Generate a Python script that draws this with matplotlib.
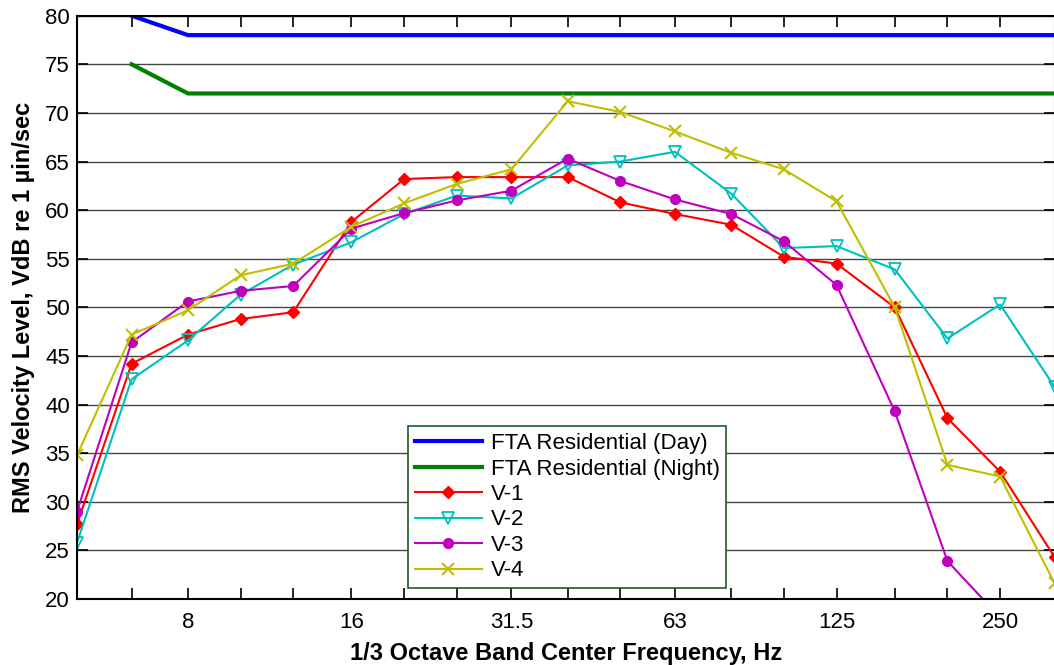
import numpy as np
import matplotlib
matplotlib.use("Agg")
import matplotlib.pyplot as plt
from matplotlib.ticker import FixedLocator, FixedFormatter, NullFormatter

plt.rcParams["font.family"] = ["Liberation Sans", "DejaVu Sans"]

# 1/3 octave band centre frequencies, Hz
bands = [5, 6.3, 8, 10, 12.5, 16, 20, 25, 31.5, 40, 50, 63, 80, 100, 125, 160, 200, 250, 315]
label_bands = [8, 16, 31.5, 63, 125, 250]
label_text = ["8", "16", "31.5", "63", "125", "250"]

# FTA criteria
fta_day = [np.nan, 80, 78, 78, 78, 78, 78, 78, 78, 78, 78, 78, 78, 78, 78, 78, 78, 78, 78]
fta_night = [np.nan, 75, 72, 72, 72, 72, 72, 72, 72, 72, 72, 72, 72, 72, 72, 72, 72, 72, 72]

# measured levels, VdB
v1 = [27.7, 44.2, 47.2, 48.8, 49.5, 58.8, 63.2, 63.4, 63.4, 63.4, 60.8, 59.6, 58.5, 55.2, 54.5, 50.0, 38.6, 33.1, 24.3]
v2 = [25.8, 42.6, 46.6, 51.3, 54.4, 56.7, 59.6, 61.5, 61.2, 64.6, 65.0, 66.0, 61.7, 56.1, 56.3, 53.9, 46.8, 50.3, 41.8]
v3 = [29.0, 46.4, 50.6, 51.7, 52.2, 58.1, 59.7, 61.0, 62.0, 65.3, 63.0, 61.1, 59.6, 56.8, 52.3, 39.3, 23.9, 18.1, 12.0]
v4 = [34.8, 47.2, 49.7, 53.3, 54.5, 58.3, 60.7, 62.7, 64.2, 71.2, 70.1, 68.1, 65.9, 64.2, 60.9, 50.0, 33.8, 32.6, 21.6]

fig = plt.figure(figsize=(10.54, 6.65), dpi=100)
ax = fig.add_axes([0.0731, 0.0992, 0.9275, 0.8772])

ax.plot(bands, fta_day, color="#0000ff", lw=3.0, label="FTA Residential (Day)")
ax.plot(bands, fta_night, color="#008000", lw=3.0, label="FTA Residential (Night)")
ax.plot(bands, v1, color="#ff0000", lw=1.5, marker="D", ms=6, label="V-1")
ax.plot(bands, v2, color="#00bfbf", lw=1.5, marker="v", ms=8, mfc="none", mew=1.3, label="V-2")
ax.plot(bands, v3, color="#bf00bf", lw=1.5, marker="o", ms=7, label="V-3")
ax.plot(bands, v4, color="#bfbf00", lw=1.5, marker="x", ms=8, mew=1.5, label="V-4")

ax.set_xscale("log")
ax.set_xlim(5, 315)
ax.set_ylim(20, 80)
ax.xaxis.set_major_locator(FixedLocator(label_bands))
ax.xaxis.set_major_formatter(FixedFormatter(label_text))
ax.xaxis.set_minor_locator(FixedLocator(bands))
ax.xaxis.set_minor_formatter(NullFormatter())
ax.set_yticks(range(20, 81, 5))

ax.tick_params(axis="both", which="both", direction="in", length=8, width=1.2,
               top=True, right=True, labelsize=16, colors="black")
ax.tick_params(axis="x", which="major", pad=9)
ax.tick_params(axis="y", which="major", pad=5)

ax.grid(axis="y", color="#454545", lw=1.0)
ax.set_axisbelow(True)
for s in ax.spines.values():
    s.set_linewidth(1.5)
    s.set_color("black")

ax.set_xlabel("1/3 Octave Band Center Frequency, Hz", fontsize=17, fontweight="bold")
ax.xaxis.set_label_coords(0.5, -0.073)
ax.set_ylabel("RMS Velocity Level, VdB re 1 µin/sec", fontsize=17, fontweight="bold")
ax.yaxis.set_label_coords(-0.043, 0.5)

leg = ax.legend(loc="lower left", bbox_to_anchor=(0.339, 0.019), fontsize=16,
                fancybox=False, framealpha=1, edgecolor="#1a5a2a",
                handlelength=3.0, handletextpad=0.4, labelspacing=0.2,
                borderpad=0.3, borderaxespad=0)
leg.get_frame().set_linewidth(1.2)

fig.savefig("out.png", dpi=100)
